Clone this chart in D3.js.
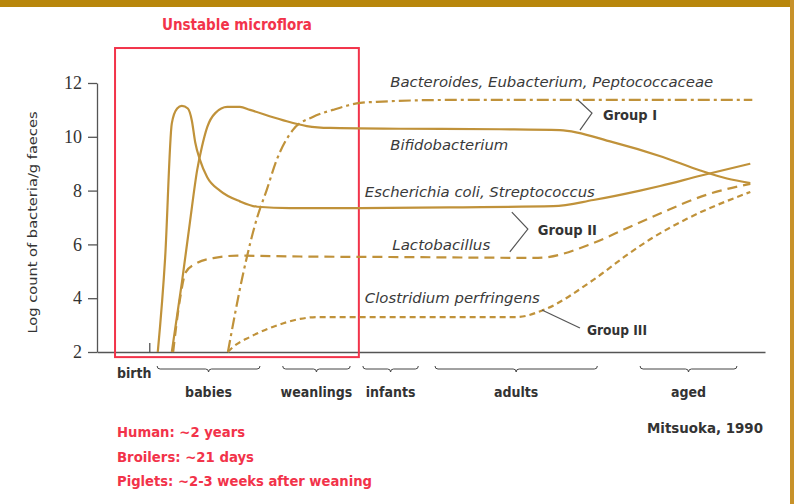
<!DOCTYPE html>
<html>
<head>
<meta charset="utf-8">
<script src="https://cdn.jsdelivr.net/npm/d3@7"></script>
<style>
  body { margin: 0; background: #fff; }
  svg { display: block; }
  text { font-family: "Liberation Sans Narrow", "DejaVu Sans Condensed", "Liberation Sans", sans-serif; }
</style>
</head>
<body>
<svg id="chart" width="794" height="504"></svg>
<script>
// y = log count, x = arbitrary age index (0 .. 100)
const yTicks = [2, 4, 6, 8, 10, 12];

const bacteroidesX = [19.6, 21.9, 24.0, 25.4, 26.9, 29.3, 32.3, 35.3, 39.4, 41.9, 52.8, 75.3, 98.1];
const bacteroidesY = [2, 4.94, 7.02, 8.02, 9.14, 10.25, 10.74, 11.0, 11.26, 11.3, 11.37, 11.37, 11.37];

const bifidoX = [11.2, 12.7, 13.9, 15.0, 15.7, 16.5, 17.7, 19.5, 21.4, 22.9, 27.8, 31.4, 34.9, 45.4, 60.3, 69.3, 77.2, 84.7, 90.3, 94.3, 97.8];
const bifidoY = [2, 4.57, 6.8, 8.77, 9.62, 10.36, 10.88, 11.11, 11.11, 11.0, 10.62, 10.4, 10.33, 10.3, 10.28, 10.25, 9.8, 9.25, 8.75, 8.45, 8.28];

const ecoliX = [9.1, 10.2, 11.2, 12.0, 12.7, 13.6, 14.2, 14.7, 15.4, 16.5, 18.4, 21.4, 24.0, 28.9, 39.4, 52.8, 68.3, 74.3, 81.3, 84.3, 90.3, 97.8];
const ecoliY = [2, 5.5, 10.5, 11.05, 11.15, 11.05, 10.6, 9.8, 9.15, 8.5, 8.0, 7.6, 7.4, 7.35, 7.35, 7.38, 7.42, 7.65, 8.0, 8.17, 8.55, 9.0];

const lactoX = [11.4, 12.4, 13.3, 14.7, 17.4, 21.0, 30.4, 45.4, 66.0, 74.3, 79.3, 84.3, 91.3, 97.8];
const lactoY = [2, 3.93, 4.97, 5.27, 5.49, 5.58, 5.55, 5.53, 5.5, 6.05, 6.6, 7.15, 7.85, 8.25];

const clostX = [19.6, 20.2, 22.9, 26.3, 30.4, 32.9, 45.4, 62.9, 66.8, 74.3, 79.3, 83.2, 88.3, 97.8];
const clostY = [2, 2.15, 2.56, 2.93, 3.23, 3.3, 3.3, 3.3, 3.56, 4.68, 5.6, 6.25, 6.95, 7.95];

const stageNames = ["babies", "weanlings", "infants", "adults", "aged"];
const stageStart = [9.0, 27.8, 39.8, 50.6, 81.3];
const stageEnd = [24.4, 37.9, 48.1, 74.9, 95.8];

const notes = ["Human: ~2 years", "Broilers: ~21 days", "Piglets: ~2-3 weeks after weaning"];

// ---- layout
const W = 794, H = 504;
const x = d3.scaleLinear().domain([0, 100]).range([97, 765]);
const y = d3.scaleLinear().domain([2, 12]).range([352, 83]);
const lineCol = "#C0923A";
const red = "#F2334A";

const svg = d3.select("#chart");

// frame
svg.append("rect").attr("x", 0).attr("y", 0).attr("width", W).attr("height", 7).attr("fill", "#B8860B");
svg.append("rect").attr("x", 790).attr("y", 0).attr("width", 4).attr("height", H).attr("fill", "#C8922A");

// axes
const yAxis = svg.append("g")
  .attr("transform", `translate(${x(0)},0)`)
  .call(d3.axisLeft(y).tickValues(yTicks).tickSize(9).tickSizeOuter(0).tickPadding(6));
yAxis.select(".domain").attr("stroke", "#555").attr("stroke-width", 1.3);
yAxis.selectAll(".tick line").attr("stroke", "#555").attr("stroke-width", 1.3);
yAxis.selectAll(".tick text")
  .style("font-family", "'Liberation Serif', serif")
  .style("font-size", "18px")
  .attr("fill", "#333");

const xAxis = svg.append("g")
  .attr("transform", `translate(0,${y(2)})`)
  .call(d3.axisBottom(x).ticks(0).tickSizeOuter(0));
xAxis.select(".domain").attr("stroke", "#555").attr("stroke-width", 1.3);

// birth tick
svg.append("line")
  .attr("x1", x(7.9)).attr("x2", x(7.9))
  .attr("y1", y(2)).attr("y2", y(2) - 9)
  .attr("stroke", "#555").attr("stroke-width", 1.3);

svg.append("text")
  .attr("transform", `translate(37,${(y(2) + y(12)) / 2 + 5}) rotate(-90)`)
  .attr("text-anchor", "middle")
  .attr("textLength", 222).attr("lengthAdjust", "spacingAndGlyphs")
  .style("font-size", "13px").attr("fill", "#333")
  .text("Log count of bacteria/g faeces");

// red "unstable" box
svg.append("rect")
  .attr("x", x(2.7)).attr("y", y(13.3))
  .attr("width", x(39.2) - x(2.7)).attr("height", y(1.81) - y(13.3))
  .attr("fill", "none").attr("stroke", red).attr("stroke-width", 2);

svg.append("text")
  .attr("x", (x(2.7) + x(39.2)) / 2).attr("y", 30)
  .attr("text-anchor", "middle")
  .attr("textLength", 150).attr("lengthAdjust", "spacingAndGlyphs")
  .style("font-size", "15px").style("font-weight", "bold").attr("fill", red)
  .text("Unstable microflora");

// curves
const series = [
  { xs: bacteroidesX, ys: bacteroidesY, dash: "12,4,3,4" },
  { xs: bifidoX, ys: bifidoY, dash: null },
  { xs: ecoliX, ys: ecoliY, dash: null },
  { xs: lactoX, ys: lactoY, dash: "10,6" },
  { xs: clostX, ys: clostY, dash: "6,4" }
];

const line = d3.line()
  .x(d => x(d[0]))
  .y(d => y(d[1]))
  .curve(d3.curveMonotoneX);

svg.append("g").selectAll("path")
  .data(series)
  .join("path")
  .attr("d", s => line(s.xs.map((v, i) => [v, s.ys[i]])))
  .attr("fill", "none")
  .attr("stroke", lineCol)
  .attr("stroke-width", 2.2)
  .attr("stroke-dasharray", s => s.dash);

// curve labels
const curveLabels = [
  { t: "Bacteroides, Eubacterium, Peptococcaceae", u: 43.9, v: 11.85, len: 323 },
  { t: "Bifidobacterium", u: 43.9, v: 9.51, len: 118 },
  { t: "Escherichia coli, Streptococcus", u: 40.1, v: 7.76, len: 230 },
  { t: "Lactobacillus", u: 44.2, v: 5.79, len: 98 },
  { t: "Clostridium perfringens", u: 40.1, v: 3.82, len: 175 }
];
svg.append("g").selectAll("text")
  .data(curveLabels)
  .join("text")
  .attr("x", d => x(d.u)).attr("y", d => y(d.v))
  .attr("textLength", d => d.len).attr("lengthAdjust", "spacingAndGlyphs")
  .style("font-size", "14px").style("font-style", "italic")
  .attr("fill", "#3a3a3a")
  .text(d => d.t);

// group brackets
const groups = [
  { t: "Group I", pts: [[72.0, 11.37], [74.1, 10.88], [72.3, 10.25]], u: 75.75, v: 10.62, len: 54 },
  { t: "Group II", pts: [[62.1, 7.2], [64.5, 6.57], [61.8, 5.72]], u: 66.0, v: 6.35, len: 59 },
  { t: "Group III", pts: [[66.6, 3.56], [72.3, 2.89]], u: 73.35, v: 2.63, len: 60 }
];
const gl = d3.line().x(d => x(d[0])).y(d => y(d[1]));
svg.append("g").selectAll("path")
  .data(groups)
  .join("path")
  .attr("d", d => gl(d.pts))
  .attr("fill", "none").attr("stroke", "#555").attr("stroke-width", 1.2);
svg.append("g").selectAll("text")
  .data(groups)
  .join("text")
  .attr("x", d => x(d.u)).attr("y", d => y(d.v))
  .attr("textLength", d => d.len).attr("lengthAdjust", "spacingAndGlyphs")
  .style("font-size", "14px").style("font-weight", "bold")
  .attr("fill", "#333")
  .text(d => d.t);

// stage braces
const braceY = 369;
function brace(x1, x2) {
  const m = (x1 + x2) / 2, r = 3;
  return `M${x1},${braceY - r} Q${x1},${braceY} ${x1 + r},${braceY} L${m - r},${braceY} Q${m},${braceY} ${m},${braceY + r} Q${m},${braceY} ${m + r},${braceY} L${x2 - r},${braceY} Q${x2},${braceY} ${x2},${braceY - r}`;
}
const stages = stageNames.map((n, i) => ({ n, a: stageStart[i], b: stageEnd[i] }));
svg.append("g").selectAll("path")
  .data(stages)
  .join("path")
  .attr("d", d => brace(x(d.a), x(d.b)))
  .attr("fill", "none").attr("stroke", "#444").attr("stroke-width", 1);
svg.append("g").selectAll("text")
  .data(stages)
  .join("text")
  .attr("x", d => (x(d.a) + x(d.b)) / 2).attr("y", 397)
  .attr("text-anchor", "middle")
  .style("font-size", "14px").style("font-weight", "bold")
  .attr("fill", "#333")
  .text(d => d.n);

svg.append("text")
  .attr("x", 117).attr("y", 378)
  .style("font-size", "14px").style("font-weight", "bold")
  .attr("fill", "#333")
  .text("birth");

svg.append("text")
  .attr("x", 763).attr("y", 433)
  .attr("text-anchor", "end")
  .attr("textLength", 116).attr("lengthAdjust", "spacingAndGlyphs")
  .style("font-size", "14px").style("font-weight", "bold")
  .attr("fill", "#333")
  .text("Mitsuoka, 1990");

// red notes
const noteLen = [128, 137, 255];
svg.append("g").selectAll("text")
  .data(notes)
  .join("text")
  .attr("x", 117).attr("y", (d, i) => 437 + i * 24.5)
  .attr("textLength", (d, i) => noteLen[i]).attr("lengthAdjust", "spacingAndGlyphs")
  .style("font-size", "14px").style("font-weight", "bold")
  .attr("fill", red)
  .text(d => d);
</script>
</body>
</html>
